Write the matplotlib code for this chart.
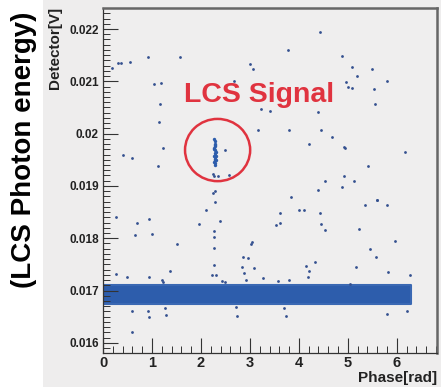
# Señal LCS: detector vs fase

import numpy as np
import matplotlib.pyplot as plt
from matplotlib.patches import Ellipse, Rectangle

# Banda de fondo (detector sin señal)
fase_banda = [0.0, 6.28]
banda_inf = [0.01674, 0.01674]
banda_sup = [0.01711, 0.01711]

# Puntos dispersos
fase_puntos = [0.18, 0.31, 0.37, 0.55, 0.92, 1.57, 1.04, 1.18, 1.17, 1.15, 1.22, 0.41, 0.59,
               1.12, 2.24, 2.24, 4.44, 3.78, 4.88, 3.01, 3.06, 5.08, 5.18, 5.49, 5.79, 4.97,
               5.00, 5.08, 5.54, 2.67, 5.55, 3.23, 3.41, 4.38, 3.17, 3.79, 4.46, 4.67, 4.20,
               4.93, 4.94, 6.16, 2.50, 2.58, 5.41, 4.54, 4.92, 5.12, 4.40, 4.89, 3.83, 5.60,
               2.27, 2.34, 2.29, 2.10, 2.28, 0.27, 0.70, 0.94, 0.65, 1.01, 1.96, 2.27, 2.27,
               1.52, 2.27, 2.27, 1.37, 0.26, 0.50, 0.94, 1.20, 1.22, 2.23, 2.31, 0.60, 0.92,
               0.94, 1.27, 1.29, 0.60, 3.62, 3.54, 3.62, 4.00, 4.11, 4.43, 4.46, 4.54, 5.35,
               5.59, 5.79, 5.23, 5.97, 5.46, 5.57, 3.02, 3.05, 2.86, 2.97, 2.84, 2.88, 3.08,
               4.15, 4.33, 4.20, 4.18, 5.16, 5.82, 6.27, 2.92, 3.26, 3.58, 3.80, 2.39, 2.43,
               2.50, 5.04, 2.74, 3.73, 5.79, 6.20, 2.71, 3.70]
detector_puntos = [0.02126, 0.02135, 0.02135, 0.02136, 0.02147, 0.02147, 0.02095, 0.02096,
                   0.02056, 0.02022, 0.01972, 0.01959, 0.01953, 0.01939, 0.01923, 0.01886,
                   0.02194, 0.02159, 0.02148, 0.02133, 0.02123, 0.02127, 0.02111, 0.02123,
                   0.02101, 0.02099, 0.02089, 0.02087, 0.02085, 0.02100, 0.02056, 0.02048,
                   0.02043, 0.02042, 0.02006, 0.02007, 0.02007, 0.01993, 0.01981, 0.01975,
                   0.01972, 0.01965, 0.01969, 0.01920, 0.01939, 0.01910, 0.01918, 0.01910,
                   0.01893, 0.01897, 0.01879, 0.01874, 0.01918, 0.01918, 0.01890, 0.01854,
                   0.01870, 0.01840, 0.01829, 0.01836, 0.01807, 0.01809, 0.01827, 0.01814,
                   0.01803, 0.01788, 0.01781, 0.01749, 0.01738, 0.01732, 0.01725, 0.01725,
                   0.01720, 0.01716, 0.01730, 0.01730, 0.01661, 0.01661, 0.01650, 0.01667,
                   0.01653, 0.01620, 0.01849, 0.01825, 0.01829, 0.01853, 0.01854, 0.01848,
                   0.01827, 0.01815, 0.01863, 0.01873, 0.01864, 0.01817, 0.01795, 0.01780,
                   0.01765, 0.01789, 0.01792, 0.01765, 0.01763, 0.01745, 0.01734, 0.01743,
                   0.01747, 0.01754, 0.01737, 0.01725, 0.01745, 0.01735, 0.01729, 0.01720,
                   0.01723, 0.01718, 0.01720, 0.01833, 0.01719, 0.01716, 0.01713, 0.01652,
                   0.01651, 0.01656, 0.01661, 0.01669, 0.01666]

# Grupo de la señal LCS
fase_senal = [2.27, 2.28, 2.29, 2.28, 2.27, 2.29, 2.30, 2.28, 2.27, 2.29,
              2.28, 2.30, 2.27, 2.29, 2.28, 2.27, 2.29, 2.28, 2.30, 2.28]
detector_senal = [0.01990, 0.01985, 0.01980, 0.01976, 0.01972, 0.01968, 0.01965, 0.01962,
                  0.01958, 0.01955, 0.01952, 0.01949, 0.01946, 0.01943, 0.01960, 0.01970,
                  0.01978, 0.01950, 0.01957, 0.01940]

y_ticks = [0.016, 0.017, 0.018, 0.019, 0.020, 0.021, 0.022]
y_labels = ['0.016', '0.017', '0.018', '0.019', '0.02', '0.021', '0.022']
x_ticks = [0, 1, 2, 3, 4, 5, 6]

plt.rcParams['font.family'] = ['Liberation Sans', 'DejaVu Sans']

fig = plt.figure(figsize=(4.41, 3.87), dpi=100)
fig.patch.set_facecolor('white')
# fondo gris del lienzo
fig.patches.append(Rectangle((43 / 441, 0), 1, 1, transform=fig.transFigure,
                             facecolor='#eeeded', edgecolor='none', zorder=-10))

ax = fig.add_axes([103 / 441, 1 - 353 / 387, 334 / 441, 345 / 387])
ax.set_facecolor('#efeeee')

azul = '#2d5dac'
ax.fill_between(fase_banda, banda_inf, banda_sup, color=azul, linewidth=1.5,
                edgecolor='#3a68b3', joinstyle='round')
ax.scatter(fase_puntos, detector_puntos, s=4, color='#34508f', linewidths=0)
ax.scatter(fase_senal, detector_senal, s=6, color=azul, linewidths=0)

# círculo y texto de la señal
ax.add_patch(Ellipse((2.34, 0.019686), 1.33, 0.00119, fill=False, edgecolor='#e0333f', linewidth=1.8))
ax.text(3.18, 0.02074, 'LCS Signal', color='#e0333f', fontsize=20.5, fontweight='bold',
        ha='center', va='center')

ax.set_xlim(0, 6.82)
ax.set_ylim(0.015805, 0.022402)
ax.set_xticks(x_ticks)
ax.set_xticklabels([str(v) for v in x_ticks], fontsize=10.5, fontweight='bold', color='#222222')
ax.set_yticks(y_ticks)
ax.set_yticklabels(y_labels, fontsize=8.5, fontweight='bold', color='#222222')
ax.set_xticks(np.arange(0, 6.81, 0.2), minor=True)
ax.set_yticks(np.arange(0.0159, 0.02240, 0.0001), minor=True)
ax.tick_params(which='major', direction='in', length=11, width=0.8, color='#333333', pad=3)
ax.tick_params(axis='x', which='major', pad=2)
ax.tick_params(which='minor', direction='in', length=5, width=0.7, color='#333333')

for lado in ['left', 'bottom']:
    ax.spines[lado].set_color('#333333')
    ax.spines[lado].set_linewidth(0.9)
for lado in ['top', 'right']:
    ax.spines[lado].set_color('#666666')
    ax.spines[lado].set_linewidth(1.8)

# títulos de ejes
fig.text(437 / 441, 1 - 385 / 387, 'Phase[rad]', fontsize=11, fontweight='bold',
         ha='right', va='bottom', color='#222222')
fig.text(55 / 441, 1 - 7 / 387, 'Detector[V]', fontsize=11, fontweight='bold',
         rotation=90, ha='center', va='top', color='#222222')
fig.text(24 / 441, 1 - 150 / 387, '(LCS Photon energy)', fontsize=20, fontweight='bold',
         rotation=90, ha='center', va='center', color='black')

plt.savefig('out.png', dpi=100)
